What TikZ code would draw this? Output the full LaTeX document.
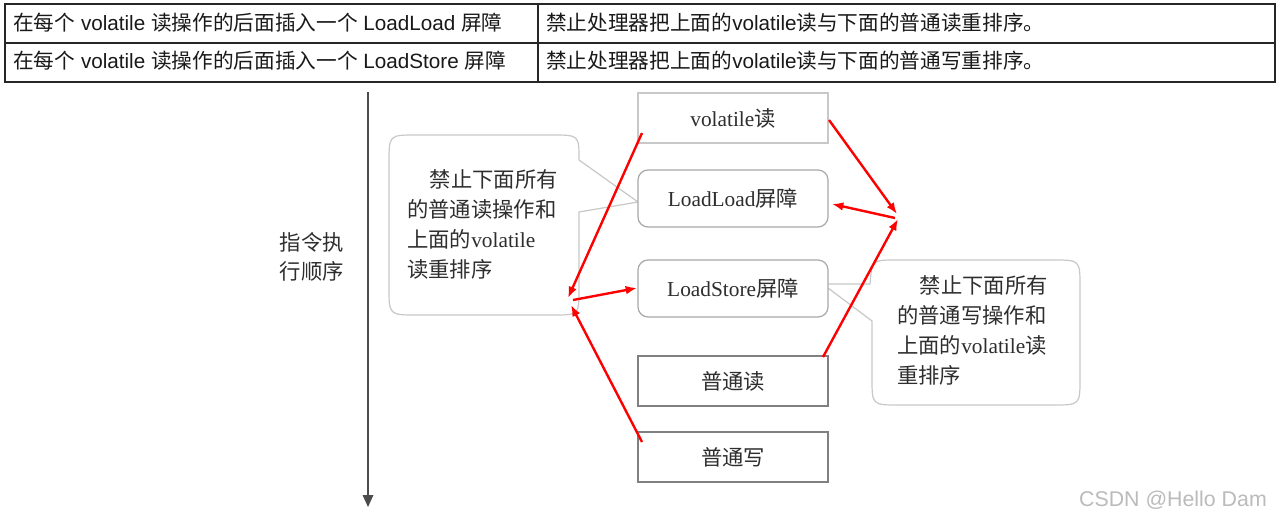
\documentclass[tikz,border=0pt]{standalone}
\usepackage{fontspec}
\setmainfont{Liberation Serif}
\newfontfamily\cjk{Noto Sans CJK SC}
\newfontfamily\arialf{Liberation Sans}
\usetikzlibrary{arrows.meta,calc}
\newcommand\zh[1]{{\cjk #1}}
\definecolor{txt}{HTML}{2E2E2E}
\definecolor{lightbd}{HTML}{C8C8C8}
\definecolor{midbd}{HTML}{A8A8A8}
\definecolor{darkbd}{HTML}{808080}
\definecolor{wm}{HTML}{BBBBBB}
\tikzset{
  tbl/.style={draw=black!85, line width=0.8pt},
  cell/.style={inner sep=0pt, anchor=west, font=\arialf\fontsize{15.5}{18}\selectfont, text=black!90},
  boxbase/.style={minimum width=142.5pt, inner sep=0pt, text=txt, font=\fontsize{16}{19}\selectfont, fill=white},
  sharpbox/.style={boxbase, draw=lightbd, line width=0.9pt, minimum height=37.5pt},
  roundbox/.style={boxbase, draw=midbd, line width=0.9pt, rounded corners=7.5pt, minimum height=42.75pt},
  darkbox/.style={boxbase, draw=darkbd, line width=1.1pt, minimum height=37.5pt},
  callout/.style={draw=lightbd, line width=0.9pt, fill=white},
  ctext/.style={inner sep=0pt, anchor=north west, align=left, text=txt, font=\fontsize{16}{22.5}\selectfont},
  redarrow/.style={draw=red, line width=1.8pt, -{Latex[length=8.5pt,width=6.5pt]}},
  flow/.style={draw=black!70, line width=0.8pt, -{Triangle[length=9pt,width=8pt]}}
}
\begin{document}
\begin{tikzpicture}[x=0.75pt,y=-0.75pt]
\useasboundingbox[fill=white] (0,0) rectangle (1280,524);

% ---- table ----
\draw[tbl] (5,4) rectangle (1275,82);
\draw[tbl] (5,43) -- (1275,43);
\draw[tbl] (538,4) -- (538,82);
\node[cell] (t11) at (13,23) {\zh{在每个} volatile \zh{读操作的后面插入一个} LoadLoad \zh{屏障}};
\node[cell] (t21) at (13,61) {\zh{在每个} volatile \zh{读操作的后面插入一个} LoadStore \zh{屏障}};
\node[cell] (t12) at (546,23) {\zh{禁止处理器把上面的}volatile\zh{读与下面的普通读重排序。}};
\node[cell] (t22) at (546,61) {\zh{禁止处理器把上面的}volatile\zh{读与下面的普通写重排序。}};

% ---- flow axis ----
\coordinate (ftop) at (368,92);
\coordinate (fbot) at (368,507);
\draw[flow] (ftop) -- (fbot);
\node[inner sep=0pt, anchor=east, align=center, text=txt, font=\fontsize{16}{21.5}\selectfont] (order) at (344,257) {\zh{指令执}\\\zh{行顺序}};

% ---- callouts ----
\draw[callout] (416,135) -- (552,135) .. controls (579,135) .. (579,160) -- (638,202) -- (579,212) -- (579,289) .. controls (579,315) .. (553,315) -- (417,315) .. controls (389,315) .. (389,287) -- (389,163) .. controls (389,135) .. (416,135) -- cycle;
\node[ctext] (lc) at (407,169) {\hspace*{1.05em}\zh{禁止下面所有}\\\zh{的普通读操作和}\\\zh{上面的}volatile\\\zh{读重排序}};

\draw[callout] (828,284) -- (870,284) .. controls (872,260) .. (897,260) -- (1053,260) .. controls (1080,260) .. (1080,287) -- (1080,378) .. controls (1080,405) .. (1053,405) -- (899,405) .. controls (872,405) .. (872,378) -- (872,321) -- (828,288);
\node[ctext] (rc) at (897,275) {\hspace*{1.05em}\zh{禁止下面所有}\\\zh{的普通写操作和}\\\zh{上面的}volatile\zh{读}\\\zh{重排序}};

% ---- boxes ----
\node[sharpbox] (vr) at (733,118) {volatile\zh{读}};
\node[roundbox] (ll) at (733,198.5) {LoadLoad\zh{屏障}};
\node[roundbox] (ls) at (733,288.5) {LoadStore\zh{屏障}};
\node[darkbox] (nr) at (733,381) {\zh{普通读}};
\node[darkbox] (nw) at (733,457) {\zh{普通写}};

% ---- red arrows ----
\coordinate (P) at (568,298);
\coordinate (Q) at (897,214);
\coordinate (vrL) at (642,133);
\coordinate (vrR) at (829,120);
\coordinate (nwL) at (642,442);
\coordinate (nrR) at (823,357);
\coordinate (lsL) at (637,288);
\coordinate (llR) at (832,204);
\coordinate (Ps) at (573,300);
\coordinate (Qs) at (895,218);
\draw[redarrow] (vrL) -- (P);
\draw[redarrow] (nwL) -- ($(P)+(3,7)$);
\draw[redarrow] (Ps) -- (lsL);
\draw[redarrow] (vrR) -- (Q);
\draw[redarrow] (nrR) -- ($(Q)+(1,5)$);
\draw[redarrow] (Qs) -- (llR);

% ---- watermark ----
\node[inner sep=0pt, text=wm, font=\arialf\fontsize{16}{19}\selectfont] (wmk) at (1173,500) {CSDN @Hello Dam};
\end{tikzpicture}
\end{document}
